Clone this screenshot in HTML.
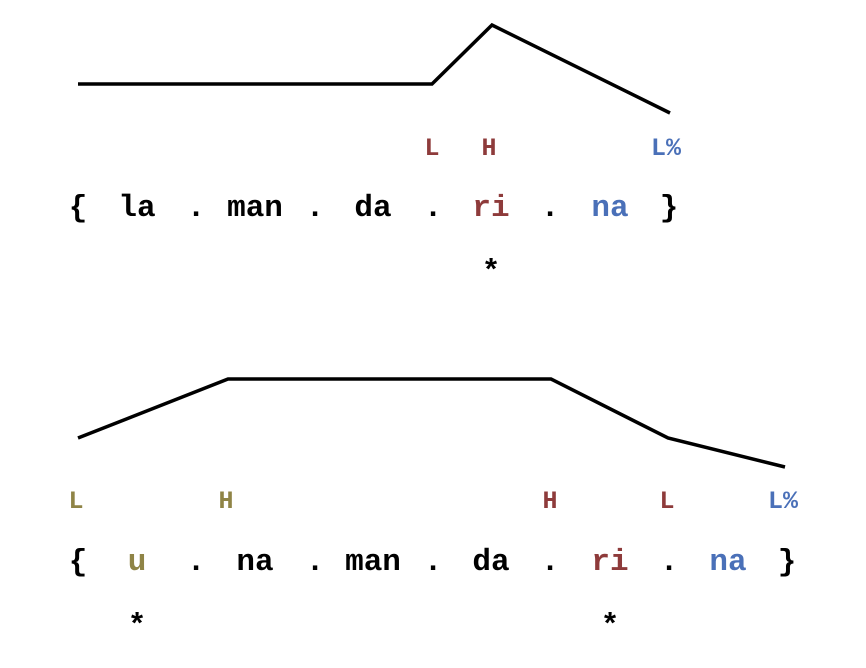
<!DOCTYPE html>
<html><head><style>
html,body{margin:0;padding:0;background:#fff;}
svg{display:block;}
text{font-family:"Liberation Mono","Courier New",monospace;font-weight:bold;text-anchor:middle;}
.s{font-size:31px;fill:#000;}
.t{font-size:25px;}
.r{fill:#8e3b3b;}
.b{fill:#4a70b8;}
.o{fill:#8f8446;}
</style></head><body>
<svg width="866" height="668" viewBox="0 0 866 668" xmlns="http://www.w3.org/2000/svg">
<polyline points="78,84 432,84 492,25 670,113" fill="none" stroke="#000" stroke-width="3.5" stroke-linejoin="miter"/>
<polyline points="78,438 228,379 551,379 668,438 785,467" fill="none" stroke="#000" stroke-width="3.5"/>

<text class="t r" x="432" y="155">L</text>
<text class="t r" x="489" y="155">H</text>
<text class="t b" x="666" y="155">L%</text>

<text class="s" x="78" y="216">{</text>
<text class="s" x="137" y="216">la</text>
<text class="s" x="196" y="216">.</text>
<text class="s" x="255" y="216">man</text>
<text class="s" x="315" y="216">.</text>
<text class="s" x="373" y="216">da</text>
<text class="s" x="433" y="216">.</text>
<text class="s r" x="491" y="216">ri</text>
<text class="s" x="550" y="216">.</text>
<text class="s b" x="610" y="216">na</text>
<text class="s" x="669" y="216">}</text>
<text class="s" x="491" y="280">*</text>

<text class="t o" x="76" y="508">L</text>
<text class="t o" x="226" y="508">H</text>
<text class="t r" x="550" y="508">H</text>
<text class="t r" x="667" y="508">L</text>
<text class="t b" x="783" y="508">L%</text>

<text class="s" x="78" y="570">{</text>
<text class="s o" x="137" y="570">u</text>
<text class="s" x="196" y="570">.</text>
<text class="s" x="255" y="570">na</text>
<text class="s" x="315" y="570">.</text>
<text class="s" x="373" y="570">man</text>
<text class="s" x="433" y="570">.</text>
<text class="s" x="491" y="570">da</text>
<text class="s" x="550" y="570">.</text>
<text class="s r" x="610" y="570">ri</text>
<text class="s" x="669" y="570">.</text>
<text class="s b" x="728" y="570">na</text>
<text class="s" x="787" y="570">}</text>
<text class="s" x="137" y="634">*</text>
<text class="s" x="610" y="634">*</text>
</svg>
</body></html>
